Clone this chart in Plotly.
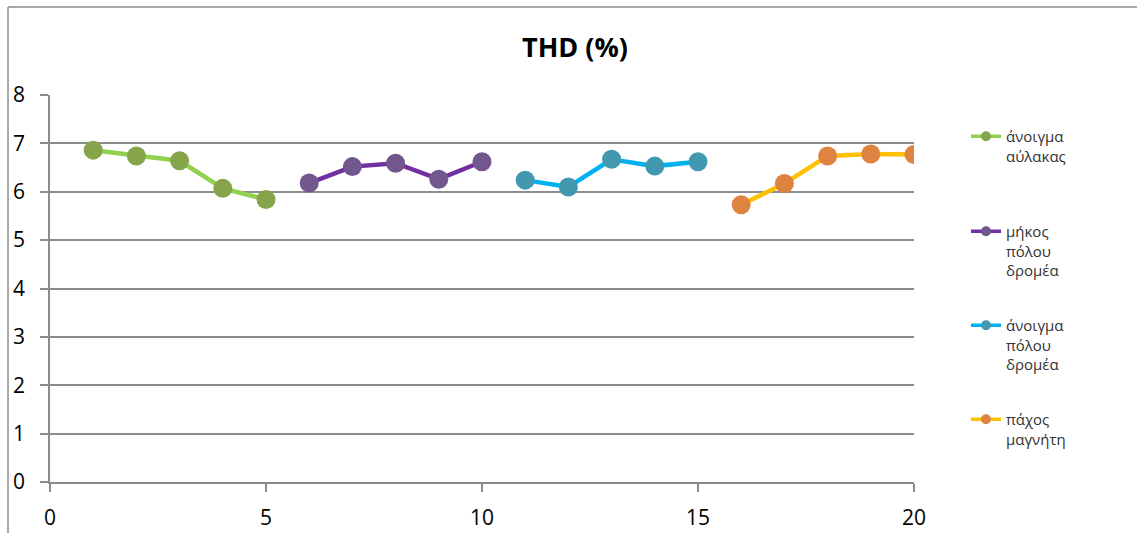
import plotly.graph_objects as go

# THD measurements for four parameter sweeps
series_names = [
    "άνοιγμα<br>αύλακας",
    "μήκος<br>πόλου<br>δρομέα",
    "άνοιγμα<br>πόλου<br>δρομέα",
    "πάχος<br>μαγνήτη",
]
x_aylakas = [1, 2, 3, 4, 5]
thd_aylakas = [6.86, 6.74, 6.64, 6.07, 5.84]
x_mikos = [6, 7, 8, 9, 10]
thd_mikos = [6.18, 6.52, 6.59, 6.26, 6.62]
x_anoigma = [11, 12, 13, 14, 15]
thd_anoigma = [6.24, 6.10, 6.67, 6.53, 6.62]
x_pachos = [16, 17, 18, 19, 20]
thd_pachos = [5.73, 6.17, 6.74, 6.78, 6.77]

x_ticks = [0, 5, 10, 15, 20]
y_ticks = [0, 1, 2, 3, 4, 5, 6, 7, 8]

line_colors = ["#92D050", "#7030A0", "#00B0F0", "#FFC000"]
marker_colors = ["#86A44A", "#72578F", "#4198AF", "#DE8340"]

xs = [x_aylakas, x_mikos, x_anoigma, x_pachos]
ys = [thd_aylakas, thd_mikos, thd_anoigma, thd_pachos]

W, H = 1137, 533
L, R, T, B = 50, 914, 95, 482  # plot area in pixels


def px_x(p):
    return (p - L) / (R - L)


def px_y(p):
    return (B - p) / (B - T)


FONT = "Open Sans, Liberation Sans, sans-serif"
fig = go.Figure()

legend_ids = ["legend", "legend2", "legend3", "legend4"]
legend_tops = [120, 215, 309, 403]

for i in range(4):
    fig.add_trace(go.Scatter(
        x=xs[i], y=ys[i], mode="lines+markers",
        line=dict(color=line_colors[i], width=4.5),
        marker=dict(color=marker_colors[i], size=19),
        showlegend=False, hoverinfo="x+y",
    ))
    # small legend key
    fig.add_trace(go.Scatter(
        x=[None], y=[None], mode="lines+markers", name=series_names[i],
        line=dict(color=line_colors[i], width=3.5),
        marker=dict(color=marker_colors[i], size=10),
        legend=legend_ids[i], showlegend=True,
    ))

legend_kw = {}
for i, lid in enumerate(legend_ids):
    legend_kw[lid] = dict(
        x=px_x(966), y=px_y(legend_tops[i]), xanchor="left", yanchor="top",
        font=dict(family=FONT, size=15, color="#333333"),
        valign="top", bgcolor="rgba(0,0,0,0)", borderwidth=0,
    )

grid_c = "#8C8C8C"
fig.update_layout(
    width=W, height=H,
    margin=dict(l=L, r=W - R, t=T, b=H - B, autoexpand=False),
    paper_bgcolor="white", plot_bgcolor="white",
    title=dict(text="<b>THD (%)</b>", x=575 / W, y=1 - 48 / H,
               xanchor="center", yanchor="middle",
               font=dict(family=FONT, size=27, color="#000000")),
    xaxis=dict(range=[0, 20], tickvals=x_ticks, ticks="outside", ticklen=8,
               tickcolor=grid_c, tickwidth=1.5, showgrid=False,
               showline=True, linecolor=grid_c, linewidth=1.5,
               zeroline=False, ticklabelstandoff=8, automargin=False,
               tickfont=dict(family=FONT, size=21, color="#000000")),
    yaxis=dict(range=[0, 8], tickvals=y_ticks, ticks="outside", ticklen=8,
               tickcolor=grid_c, tickwidth=1.5, showgrid=True,
               gridcolor=grid_c, gridwidth=1.5,
               showline=True, linecolor=grid_c, linewidth=1.5,
               zeroline=False, ticklabelstandoff=11, automargin=False,
               tickfont=dict(family=FONT, size=21, color="#000000")),
    **legend_kw,
)

# chart frame (left and top edges)
frame = dict(color="#8C8C8C", width=1.5)
fig.add_shape(type="line", xref="paper", yref="paper",
              x0=px_x(8), x1=px_x(W + 5), y0=px_y(7), y1=px_y(7), line=frame)
fig.add_shape(type="line", xref="paper", yref="paper",
              x0=px_x(8), x1=px_x(8), y0=px_y(7), y1=px_y(H + 5), line=frame)

fig.write_html("out.html")
